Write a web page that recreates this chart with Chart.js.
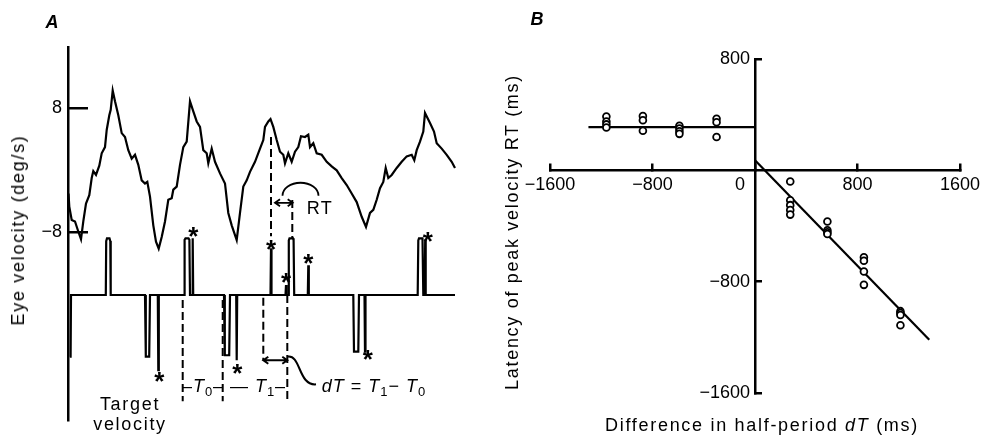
<!DOCTYPE html>
<html><head><meta charset="utf-8">
<script src="https://cdn.jsdelivr.net/npm/chart.js@4/dist/chart.umd.min.js"></script>
<style>
html,body{margin:0;padding:0;background:#fff;}
#wrap{position:relative;width:985px;height:436px;overflow:hidden;font-family:"Liberation Sans",Arial,sans-serif;color:#000;}
canvas{position:absolute;top:0;}
#cA{left:0;width:490px;height:436px;}
#cB{left:490px;width:495px;height:436px;}
.t{position:absolute;white-space:nowrap;font-size:18px;letter-spacing:1.7px;line-height:1;}
.rot{transform:translate(-50%,-50%) rotate(-90deg);}
.ctr{transform:translate(-50%,-50%);}
</style></head>
<body><div id="wrap">
<canvas id="cA" width="490" height="436"></canvas>
<canvas id="cB" width="495" height="436"></canvas>
<div class="t ctr" style="left:52px;top:22px;font-weight:bold;font-style:italic;letter-spacing:0">A</div>
<div class="t ctr" style="left:537px;top:19px;font-weight:bold;font-style:italic;letter-spacing:0">B</div>
<div class="t rot" style="left:18px;top:230px;">Eye velocity (deg/s)</div>
<div class="t ctr" style="left:130px;top:404px;">Target</div>
<div class="t ctr" style="left:130px;top:424px;">velocity</div>
<div class="t rot" style="left:512px;top:232px;">Latency of peak velocity RT (ms)</div>
<div class="t ctr" style="left:762px;top:425px;">Difference in half-period <i>dT</i> (ms)</div>
</div>
<script>
// ---------- Panel A data (time in ms, velocity in deg/s) ----------
const eyeTime = [5,13,37,70,103,130,153,180,213,237,253,280,313,337,370,387,413,427,447,470,503,537,570,603,637,670,703,737,770,793,820,853,880,907,937,970,1003,1037,1053,1087,1120,1153,1187,1220,1253,1287,1320,1353,1387,1403,1437,1470,1520,1570,1603,1637,1687,1720,1753,1787,1820,1870,1920,1953,1970,2003,2025,2053,2087,2120,2153,2170,2203,2237,2270,2303,2330,2370,2403,2420,2453,2487,2537,2587,2637,2687,2737,2787,2837,2887,2937,2980,3020,3053,3087,3120,3153,3177,3203,3237,3287,3337,3387,3437,3463,3487,3520,3553,3570,3620,3660,3687,3737,3787,3837,3870];
const eyeVelocity = [-3.0,-4.7,-6.4,-6.6,-7.9,-8.9,-6.6,-4.3,-3.2,-1.0,-0.1,-0.6,0.6,2.2,3.0,5.2,7.1,7.8,10.3,8.9,7.1,4.8,4.3,2.6,1.5,2.0,0.7,-1.3,-1.7,-1.5,-3.4,-7.1,-9.2,-10.1,-8.6,-6.6,-3.8,-3.6,-2.5,-2.1,0.7,3.0,3.7,8.9,7.6,6.3,5.6,2.6,2.2,0.9,2.8,1.1,-0.4,-1.7,-5.5,-7.1,-9.0,-5.5,-2.1,-1.3,-0.2,1.1,2.8,3.9,5.6,6.3,6.6,5.6,3.9,2.4,2.0,0.9,2.2,1.1,2.4,3.0,4.4,4.3,4.6,3.0,3.5,2.2,2.0,1.1,0.5,0.0,-1.0,-1.9,-3.0,-4.1,-6.0,-7.3,-5.5,-5.1,-3.8,-2.3,-1.5,0.3,-1.0,-0.6,0.3,1.1,1.8,2.0,1.3,2.6,3.7,5.0,7.4,6.1,5.0,3.5,2.8,2.0,1.1,0.3];
const targetTime = [18,26,30, 378,382,390,415,423,427, 770,778,812,820, 898,903,908, 1160,1166,1175,1205,1214,1220, 1242,1247,1252, 1560,1568,1612,1620, 1682,1687,1692, 2025,2030,2035, 2175,2180,2185, 2203,2208,2215,2250,2256,2262, 2398,2403,2408, 2853,2860,2903,2910, 2965,2970,2975, 3497,3503,3510,3545,3553, 3567,3572,3577, 3870];
const targetVelocity = [-8.7,-8.7,0, 0,7.6,8,8,7.6,0, 0,-8.7,-8.7,0, 0,-10.6,0, 0,7.8,8,8,7.8,0, 0,8,0, 0,-8.5,-8.5,0, 0,-9.2,0, 0,6.6,0, 0,1.4,0, 0,7.7,8,8,7.7,0, 0,4.2,0, 0,-8,-8,0, 0,-8,0, 0,7.7,8,8,0, 0,7.8,0, 0];
const eyeTicks = [8, -8];
const asteriskTime = [913,1253,1693,2030,2180,2403,2997,3597];
const asteriskLevel = [-11.3,9.2,-10.1,7.4,2.7,5.3,-8.2,8.5];
const dashTime = [1147,1547,1953,2193,2030,2243];
const dashTop = [-0.7,-0.7,-0.4,0,22.3,13.4];
const dashBottom = [-15,-15,-9.2,-15,8.3,8.0];

// ---------- Panel B data (ms) ----------
const halfPeriodDiff = [-1160,-1160,-1160,-1160,-875,-875,-875,-590,-590,-590,-590,-300,-300,-300,275,275,275,275,275,565,565,565,565,850,850,850,850,1135,1135,1135,1135];
const peakLatency = [387,351,330,308,390,360,285,320,300,280,262,370,345,240,-80,-215,-250,-285,-318,-368,-430,-445,-458,-625,-650,-727,-823,-1012,-1025,-1040,-1113];
const flatFitX = [-1300, 0];
const flatFitY = [310, 310];
const slopeFitX = [0, 1360];
const slopeFitY = [72, -1218];
const xTicksB = [-1600, -800, 0, 800, 1600];
const yTicksB = [800, -800, -1600];

const FF = '"Liberation Sans", Arial, sans-serif';
Chart.defaults.font.family = FF;
Chart.defaults.color = '#000';
const fmt = v => (v < 0 ? '\u2212' + Math.abs(v) : String(v));
const pts = (xs, ys) => xs.map((x, i) => ({x, y: ys[i]}));
const noPad = s => { s.paddingTop = 0; s.paddingBottom = 0; s.paddingLeft = 0; s.paddingRight = 0; };

function rich(ctx, parts, x, y, align) {
  const size = 18;
  const fonts = {n: size + 'px ' + FF, i: 'italic ' + size + 'px ' + FF, s: '13px ' + FF};
  let w = 0;
  parts.forEach(p => { ctx.font = fonts[p[1]]; w += ctx.measureText(p[0]).width; });
  let cx = align === 'center' ? x - w / 2 : x;
  ctx.textAlign = 'left'; ctx.textBaseline = 'alphabetic';
  parts.forEach(p => {
    ctx.font = fonts[p[1]];
    ctx.fillText(p[0], cx, y + 6.5 + (p[1] === 's' ? 4 : 0));
    cx += ctx.measureText(p[0]).width;
  });
}
function dArrow(ctx, x1, x2, y, h) {
  ctx.beginPath();
  ctx.moveTo(x1, y); ctx.lineTo(x2, y);
  ctx.moveTo(x1 + h, y - h * 0.7); ctx.lineTo(x1, y); ctx.lineTo(x1 + h, y + h * 0.7);
  ctx.moveTo(x2 - h, y - h * 0.7); ctx.lineTo(x2, y); ctx.lineTo(x2 - h, y + h * 0.7);
  ctx.stroke();
}

const annotA = {
  id: 'annotA',
  afterDatasetsDraw(chart) {
    const {ctx, scales: {x, y2}} = chart;
    const X = t => x.getPixelForValue(t), Y = v => y2.getPixelForValue(v);
    ctx.save();
    ctx.strokeStyle = '#000'; ctx.fillStyle = '#000'; ctx.lineWidth = 2;
    ctx.setLineDash([8, 4]);
    dashTime.forEach((t, i) => {
      ctx.beginPath(); ctx.moveTo(X(t), Y(dashTop[i])); ctx.lineTo(X(t), Y(dashBottom[i])); ctx.stroke();
    });
    ctx.setLineDash([]);
    // asterisks
    ctx.font = 'bold 26px ' + FF; ctx.textAlign = 'center'; ctx.textBaseline = 'alphabetic';
    asteriskTime.forEach((t, i) => ctx.fillText('*', X(t), Y(asteriskLevel[i]) + 15));
    // RT arrow and arc
    ctx.lineWidth = 1.8;
    dArrow(ctx, X(2070), X(2247), Y(13.0), 5);
    ctx.beginPath(); ctx.ellipse(X(2325), Y(14.0), 18, 13, 0, Math.PI, 2 * Math.PI); ctx.stroke();
    ctx.letterSpacing = '1.5px';
    ctx.font = '18px ' + FF; ctx.textAlign = 'center'; ctx.textBaseline = 'middle';
    ctx.fillText('RT', X(2520), Y(12.1));
    // dT arrow and curve
    ctx.lineWidth = 2;
    dArrow(ctx, X(1953), X(2193), Y(-9.2), 5);
    ctx.beginPath();
    ctx.moveTo(X(2193), Y(-8.7));
    ctx.bezierCurveTo(X(2330), Y(-8.3), X(2300), Y(-12.8), X(2480), Y(-12.6));
    ctx.stroke();
    ctx.letterSpacing = '1px';
    rich(ctx, [['d','i'],['T','i'],[' = ','n'],['T','i'],['1','s'],['\u2212 ','n'],['T','i'],['0','s']], X(2537), Y(-12.8), 'left');
    rich(ctx, [['\u2013','n'],['T','i'],['0','s'],['\u2013','n']], X(1350), Y(-12.8), 'center');
    rich(ctx, [['\u2014 ','n'],['T','i'],['1','s'],['\u2013','n']], X(1900), Y(-12.8), 'center');
    ctx.restore();
  }
};

new Chart(document.getElementById('cA'), {
  type: 'scatter',
  data: {datasets: [
    {label: 'Eye velocity', data: pts(eyeTime, eyeVelocity), yAxisID: 'y', showLine: true,
     borderColor: '#000', borderWidth: 2.2, pointRadius: 0, tension: 0},
    {label: 'Target velocity', data: pts(targetTime, targetVelocity), yAxisID: 'y2', showLine: true,
     borderColor: '#000', borderWidth: 2.2, pointRadius: 0, tension: 0}
  ]},
  options: {
    responsive: false, animation: false, events: [],
    layout: {padding: {top: 47, bottom: 16, left: 0, right: 25}},
    plugins: {legend: {display: false}, tooltip: {enabled: false}},
    scales: {
      x: {type: 'linear', min: 0, max: 3970, display: false},
      y: {type: 'linear', position: 'left', min: -32.22, max: 15.91,
          afterBuildTicks: s => { s.ticks = eyeTicks.map(v => ({value: v})); },
          afterFit: s => { s.width = 68; noPad(s); },
          grid: {drawOnChartArea: false, drawTicks: true, tickLength: -20, lineWidth: 2.5, color: '#000'},
          border: {display: true, width: 2.5, color: '#000'},
          ticks: {padding: 26, color: '#000', font: {size: 18}, callback: v => fmt(v)}},
      y2: {type: 'linear', display: false, min: -17.63, max: 34.98}
    }
  },
  plugins: [annotA]
});

new Chart(document.getElementById('cB'), {
  type: 'scatter',
  data: {datasets: [
    {label: 'Trials', data: pts(halfPeriodDiff, peakLatency), pointRadius: 3.4, pointBorderWidth: 1.8,
     pointBackgroundColor: '#fff', pointBorderColor: '#000', showLine: false},
    {label: 'Fit dT<0', data: pts(flatFitX, flatFitY), showLine: true, pointRadius: 0, borderWidth: 2.2, borderColor: '#000'},
    {label: 'Fit dT>0', data: pts(slopeFitX, slopeFitY), showLine: true, pointRadius: 0, borderWidth: 2.2, borderColor: '#000'}
  ]},
  options: {
    responsive: false, animation: false, events: [],
    layout: {padding: {left: 60, right: 25, top: 59, bottom: 43}},
    plugins: {legend: {display: false}, tooltip: {enabled: false}},
    scales: {
      y: {type: 'linear', min: -1600, max: 800, position: {x: 0},
          afterBuildTicks: s => { s.ticks = yTicksB.map(v => ({value: v})); },
          afterFit: noPad,
          grid: {drawOnChartArea: false, drawTicks: true, tickLength: -8, lineWidth: 2.5, color: '#000'},
          border: {display: true, width: 2.5, color: '#000'},
          ticks: {color: '#000', font: {size: 18}, callback: v => fmt(v) + ' '}},
      x: {type: 'linear', min: -1600, max: 1600, position: {y: 0},
          afterBuildTicks: s => { s.ticks = xTicksB.map(v => ({value: v})); },
          afterFit: noPad,
          grid: {drawOnChartArea: false, drawTicks: true, tickLength: -8, lineWidth: 2.5, color: '#000'},
          border: {display: true, width: 2.5, color: '#000'},
          ticks: {padding: 12, color: '#000', font: {size: 18}, maxRotation: 0, autoSkip: false,
                  callback: v => (v === 0 ? '0\u2007\u2007\u2007' : fmt(v))}}
    }
  }
});
</script>
</body></html>
